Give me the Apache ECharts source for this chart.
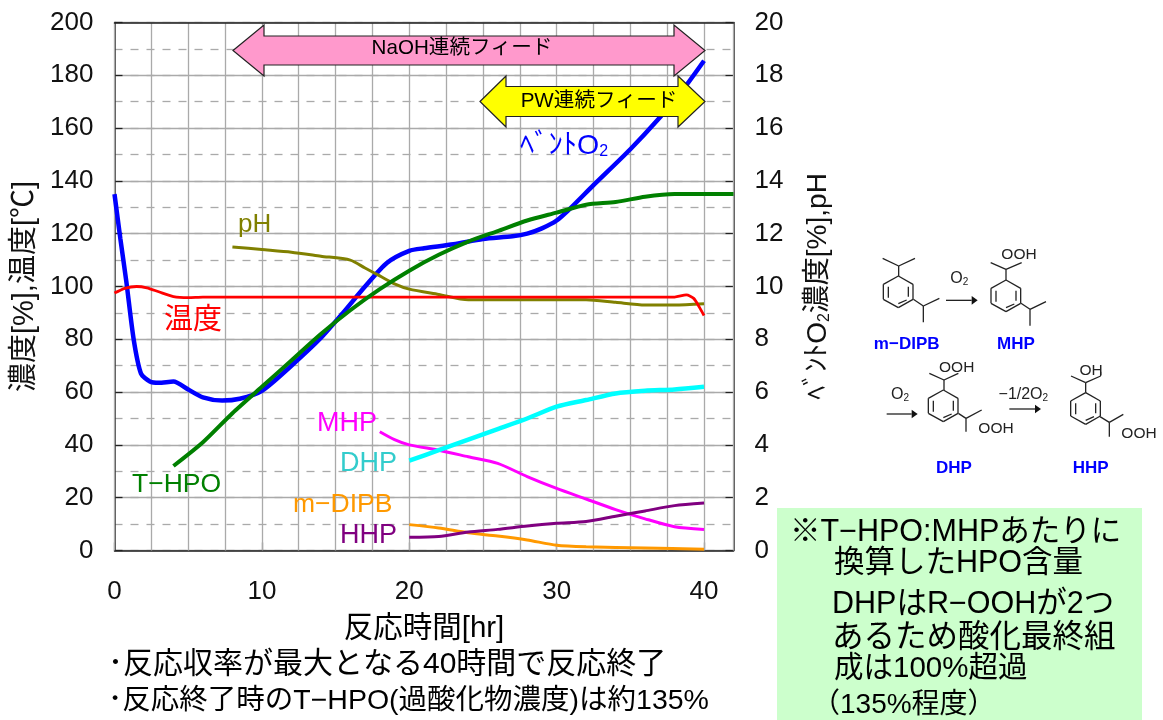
<!DOCTYPE html>
<html><head><meta charset="utf-8">
<style>html,body{margin:0;padding:0;background:#fff}#c{width:1163px;height:720px}</style>
<script src="https://cdn.jsdelivr.net/npm/echarts@6/dist/echarts.min.js"></script>
</head><body><div id="c"></div>
<script>
const FONT = '"Liberation Sans","Noto Sans CJK JP",sans-serif';
const leftTicks = [0,20,40,60,80,100,120,140,160,180,200];
const xTickLabels = [0,10,20,30,40];
const ventO2 = [[0,13.5],[0.4,11.8],[0.8,10.2],[1.3,8],[1.8,6.7],[2.4,6.4],[3,6.35],[4,6.4],[5,6.1],[6,5.8],[7.3,5.68],[8.5,5.75],[10,6.05],[12,7],[14,8.05],[15.5,9],[17,10],[18.5,10.9],[20,11.35],[21,11.45],[23,11.6],[25,11.8],[27,11.9],[28,12],[29,12.2],[30,12.5],[31,13],[32.5,13.84],[35,15.2],[37,16.4],[38.5,17.4],[40,18.55]];
const pH = [[8,11.5],[10,11.4],[12,11.3],[14,11.15],[16,11],[17,10.7],[18,10.4],[19,10.1],[20,9.9],[22,9.7],[24,9.5],[28,9.5],[32,9.5],[34,9.4],[36,9.3],[38,9.3],[40,9.35]];
const temperature = [[0,97.5],[0.7,99.3],[1.5,100],[2.2,99.5],[3,98],[4,96.2],[5,95.8],[6,96],[10,96],[20,96],[30,96],[38,96],[38.8,96.8],[39.3,95.5],[39.7,92],[40,89]];
const tHPO = [[4,32],[6,41],[8,52],[10,62],[12,72],[14,82],[16,91],[18,99],[20,106],[22,112],[24,117],[26,121],[28,125],[30,128],[32,131],[34,132],[36,134],[38,135],[40,135],[42,135]];
const MHP = [[18,45],[19,42],[20,40],[22,38],[24,35.5],[26,33],[28,28],[30,23.5],[32,19.5],[34,15.5],[36,12],[38,9],[40,8]];
const DHP = [[20,34],[22,38],[24,42],[26,46],[28,50],[30,54.5],[32,57],[34,59.5],[36,60.5],[38,61],[40,62]];
const mDIPB = [[20,9.8],[22,8.5],[24,6.7],[26,5.5],[28,4],[30,2],[32,1.4],[36,0.9],[40,0.5]];
const HHP = [[20,5],[22,5.3],[24,7],[26,8],[28,9.3],[30,10.3],[32,11],[34,13],[36,15],[38,17],[40,18]];

function line(name, data, color, width, yi) {
  return {name, type:'line', data, yAxisIndex:yi||0, xAxisIndex:0, smooth:0.25, symbol:'none', silent:true,
    lineStyle:{color, width}, z:3};
}
const g = [];
function txt(x,y,text,size,fill,opt){
  g.push(Object.assign({type:'text',x,y,z:20,style:Object.assign({text,fill,font:size+'px '+FONT,align:'left',verticalAlign:'middle'},opt||{})}));
}
function poly(points,fill){ g.push({type:'polygon',z:10,shape:{points},style:{fill,stroke:'#222',lineWidth:1.2}}); }
function dbl(lx,rx,hx1,hx2,cy,ht,hh,fill){
  poly([[lx,cy],[hx1,cy-hh],[hx1,cy-ht],[hx2,cy-ht],[hx2,cy-hh],[rx,cy],[hx2,cy+hh],[hx2,cy+ht],[hx1,cy+ht],[hx1,cy+hh]],fill);
}
dbl(233,705,264,674,50.5,14.5,25.5,'#FF99CC');
dbl(480,705,506,678,101.5,15,25.5,'#FFFF00');
txt(462,48,'NaOH連続フィード',20.6,'#000',{align:'center'});
txt(599,101,'PW連続フィード',20.6,'#000',{align:'center'});

// series labels
txt(238,225,'pH',26,'#808000');
txt(164,321,'温度',29,'#FF0000');
txt(132,485,'T−HPO',26.5,'#008000');
txt(317,424,'MHP',27,'#FF00FF');
txt(340,464,'DHP',27,'#33CCCC');
txt(293,505,'m−DIPB',26.5,'#FF9900');
txt(340,536,'HHP',27,'#800080');
g.push({type:'text',x:520,y:146,z:20,style:{text:'ﾍﾞﾝﾄO{s|2}',fill:'#0000FF',font:'28.5px '+FONT,align:'left',verticalAlign:'middle',rich:{s:{fontSize:16,fill:'#0000FF',padding:[12,0,0,0],fontFamily:FONT}}}});

// bottom texts
txt(424,629,'反応時間[hr]',29.5,'#000',{align:'center'});
txt(108,665,'･反応収率が最大となる40時間で反応終了',30,'#000');
txt(108,701,'･反応終了時のT−HPO(過酸化物濃度)は約135%',28.5,'#000');

// note box
g.push({type:'rect',z:1,shape:{x:777,y:508,width:365,height:212},style:{fill:'#CCFFCC'}});
txt(790,533,'※T−HPO:MHPあたりに',30.5,'#000');
txt(834,564,'換算したHPO含量',30.5,'#000');
txt(832,605,'DHPはR−OOHが2つ',30.5,'#000');
txt(832,638,'あるため酸化最終組',31.5,'#000');
txt(834,669,'成は100%超過',29.5,'#000');
txt(812,705,'（135%程度）',28,'#000');

// chemistry
const Z=(x,y)=>[840+x/3,240+y/3];
function seg(a,b,c,d,w){const p=Z(a,b),q=Z(c,d);g.push({type:'line',z:12,shape:{x1:p[0],y1:p[1],x2:q[0],y2:q[1]},style:{stroke:'#222',lineWidth:w||1.3}});}
function ring(cx,cy){
  const v=[[0,-47],[44,-22],[44,23],[0,48],[-45,23],[-45,-22]];
  for(let i=0;i<6;i++){const a=v[i],b=v[(i+1)%6];seg(cx+a[0],cy+a[1],cx+b[0],cy+b[1]);}
  seg(cx+30,cy-15,cx+30,cy+15);seg(cx+25,cy+25,cx,cy+36);seg(cx-30,cy+18,cx-30,cy-15);
}
function arr(x1,x2,y){seg(x1,y,x2,y);const a=Z(x2,y-13),b=Z(x2+18,y),c=Z(x2,y+13);g.push({type:'polygon',z:12,shape:{points:[a,b,c]},style:{fill:'#111'}});}
function chem(x,y,t,size,fill,bold,sub){const p=Z(x,y);
  g.push({type:'text',x:p[0],y:p[1],z:12,style:{text:sub?t+'{s|2}':t,fill,font:(bold?'bold ':'')+size+'px '+FONT,align:'center',verticalAlign:'middle',rich:{s:{fontSize:10,fill,padding:[7,0,0,0],fontFamily:FONT}}}});}
ring(175,155);seg(176,108,176,78);seg(176,78,128,55);seg(176,78,225,55);seg(220,178,250,198);seg(250,198,298,175);seg(250,198,250,247);
arr(318,395,181);chem(358,115,'O',16,'#222',false,true);
chem(200,312,'m−DIPB',17,'#0000FF',true);chem(528,312,'MHP',17,'#0000FF',true);
ring(498,167);seg(498,120,498,88);seg(498,88,452,68);seg(498,88,545,68);chem(537,45,'OOH',15.5,'#222');seg(543,190,570,208);seg(570,208,618,185);seg(570,208,570,257);
arr(140,215,522);chem(180,465,'O',16,'#222',false,true);
ring(310,497);seg(312,450,312,420);seg(312,420,268,400);seg(312,420,355,400);chem(350,382,'OOH',15.5,'#222');seg(355,520,378,535);seg(378,535,425,510);seg(378,535,378,575);chem(468,567,'OOH',15.5,'#222');
arr(508,585,507);chem(550,465,'−1/2O',16,'#222',false,true);
ring(737,505);seg(737,458,737,428);seg(737,428,693,408);seg(737,428,782,408);seg(782,408,782,395);chem(753,393,'OH',15.5,'#222');seg(780,530,808,547);seg(808,547,850,523);seg(808,547,808,590);chem(897,580,'OOH',15.5,'#222');
chem(342,685,'DHP',17,'#0000FF',true);chem(752,685,'HHP',17,'#0000FF',true);

const labelStyle={fontFamily:FONT,fontSize:26,color:'#111'};
const blackLine={show:true,onZero:false,lineStyle:{color:'#222',width:1.5}};
const option={
  animation:false,backgroundColor:'#fff',
  grid:{left:114.5,right:429.5,top:22.5,bottom:169.5,containLabel:false,outerBoundsMode:'none'},
  xAxis:[
    {type:'value',min:0,max:42,interval:10,position:'bottom',axisLine:blackLine,
     axisTick:{show:true,inside:true,length:8,lineStyle:{color:'#222',width:1.2}},
     splitLine:{show:false},
     axisLabel:Object.assign({margin:28,showMaxLabel:false,formatter:v=>xTickLabels.includes(v)?String(v):''},labelStyle)},
    {type:'value',min:0,max:42,interval:2.5,position:'top',axisLine:{show:true,onZero:false,lineStyle:{color:'#222',width:1.5}},
     axisTick:{show:false},axisLabel:{show:false},z:1,
     splitLine:{show:true,lineStyle:{color:'#aaaaaa',width:1.3}}}
  ],
  yAxis:[
    {type:'value',min:0,max:200,interval:20,position:'left',axisLine:blackLine,
     axisTick:{show:true,inside:true,length:8,lineStyle:{color:'#222',width:1.2}},
     splitLine:{show:true,lineStyle:{color:'#aaaaaa',width:1.3}},
     axisLabel:Object.assign({margin:21,padding:[4,0,0,0],formatter:v=>leftTicks.includes(v)?String(v):''},labelStyle),
     name:'濃度[%],温度[℃]',nameLocation:'middle',nameGap:74,nameRotate:90,
     nameTextStyle:{fontFamily:FONT,fontSize:29,color:'#111'}},
    {type:'value',min:0,max:20,interval:2,position:'right',axisLine:blackLine,
     axisTick:{show:true,inside:true,length:8,lineStyle:{color:'#222',width:1.2}},
     splitLine:{show:false},
     axisLabel:Object.assign({margin:21,padding:[4,0,0,0]},labelStyle),
     name:'ﾍﾞﾝﾄO{s|2}濃度[%],pH',nameLocation:'middle',nameGap:71,nameRotate:90,
     nameTextStyle:{fontFamily:FONT,fontSize:28,color:'#111',rich:{s:{fontSize:16,color:'#111',fontFamily:FONT,padding:[12,0,0,0]}}}},
    {type:'value',min:0,max:200,interval:10,position:'left',axisLine:{show:false},axisTick:{show:false},axisLabel:{show:false},
     splitLine:{show:true,lineStyle:{color:'#aaaaaa',width:1.3,type:[8,8]}}}
  ],
  series:[
    line('ベントO2',ventO2,'#0000FF',4.5,1),
    line('pH',pH,'#808000',3,1),
    line('温度',temperature,'#FF0000',2.8),
    line('T-HPO',tHPO,'#008000',4),
    line('MHP',MHP,'#FF00FF',3),
    line('DHP',DHP,'#00FFFF',4.5),
    line('m-DIPB',mDIPB,'#FF9900',3),
    line('HHP',HHP,'#800080',3)
  ],
  graphic:{elements:g}
};
const chart=echarts.init(document.getElementById('c'),null,{renderer:'canvas'});
chart.setOption(option);
</script></body></html>
